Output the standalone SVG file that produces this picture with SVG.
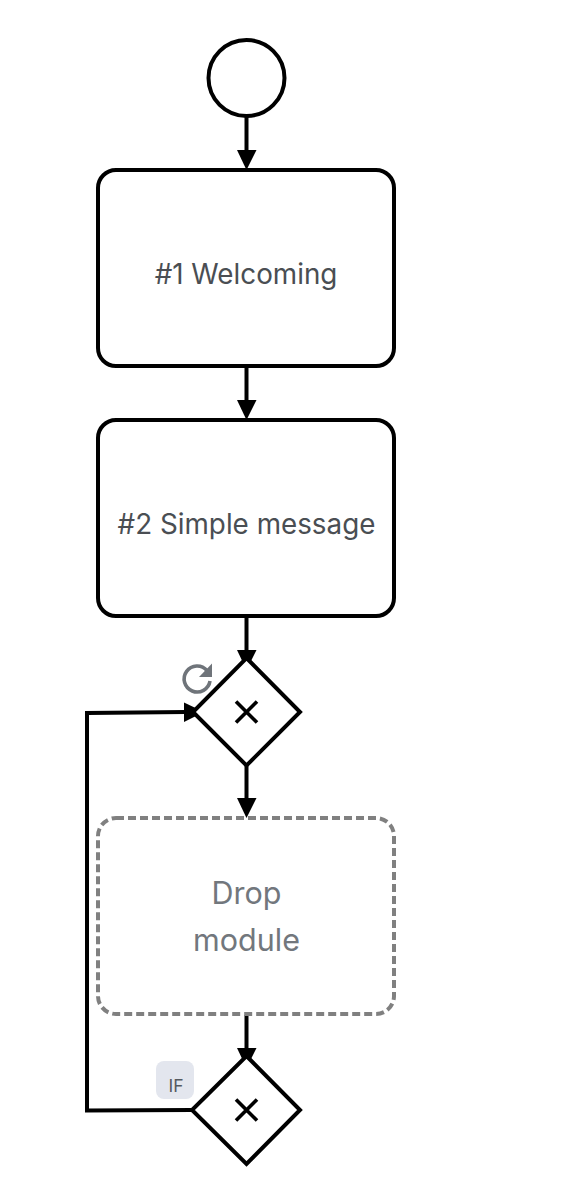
<svg xmlns="http://www.w3.org/2000/svg" width="566" height="1192" viewBox="0 0 566 1192">
<style>
.s{fill:#fff;stroke:#000;stroke-width:4}
.c{fill:none;stroke:#000;stroke-width:4}
.h{fill:#000;stroke:none}
.x{fill:none;stroke:#000;stroke-width:3.6}
.t{font-family:Inter,"Liberation Sans",sans-serif;font-size:27.8px;fill:#4a4e53;text-anchor:middle}
.g{font-family:Inter,"Liberation Sans",sans-serif;font-size:30.500px;fill:#72777d;text-anchor:middle}
</style>
<rect width="566" height="1192" fill="#fff"/>
<g id="connectors">
<path class="c" d="M246.500 116V152"/><path class="h" d="M237 150H256.500L246.500 170Z"/>
<path class="c" d="M246.500 366V402"/><path class="h" d="M237 400H256.500L246.500 420Z"/>
<path class="c" d="M246.500 616V652"/><path class="h" d="M237 650H256.500L246.500 670Z"/>
<path class="c" d="M246.500 765V800"/><path class="h" d="M237 798H256.500L246.500 818Z"/>
<path class="c" d="M246.500 1015V1050"/><path class="h" d="M237 1048H256.500L246.500 1068Z"/>
<path class="c" d="M192 1110L87 1110.500V713L186 712"/><path class="h" d="M184 702.500V722L204 712Z"/>
</g>
<g id="start"><circle class="s" cx="246.500" cy="78" r="38"/></g>
<g id="n1"><rect class="s" x="98" y="170" width="296" height="196" rx="18"/><text class="t" x="246" y="283.500">#1 Welcoming</text></g>
<g id="n2"><rect class="s" x="98" y="420" width="296" height="196" rx="18"/><text class="t" x="246.500" y="533.500">#2 Simple message</text></g>
<g id="gateway1">
<path class="s" d="M246.500 658L300 712L246.500 765.500L193 712Z"/>
<path class="x" d="M236 701.500L257 722.500M257 701.500L236 722.500"/>
<path d="M207 670.500A13 13 0 1 0 210 681" fill="none" stroke="#6f747a" stroke-width="3.600"/>
<path d="M212 663.500V677H199Z" fill="#6f747a"/>
</g>
<g id="drop"><rect x="98" y="818" width="296" height="196" rx="18" fill="#fff" stroke="#808080" stroke-width="4" stroke-dasharray="8 4"/>
<text class="g" x="246.500" y="904">Drop</text><text class="g" x="246.500" y="951">module</text></g>
<g id="gateway2">
<path class="s" d="M246.500 1056L300 1110L246.500 1164L192 1110Z"/>
<path class="x" d="M236 1099.500L257 1120.500M257 1099.500L236 1120.500"/>
<rect x="156" y="1061" width="38" height="38" rx="8" fill="#e3e6ee"/>
<text x="176" y="1092" font-family="Inter,'Liberation Sans',sans-serif" font-size="17.500" fill="#555a60" text-anchor="middle">IF</text>
</g>
</svg>
